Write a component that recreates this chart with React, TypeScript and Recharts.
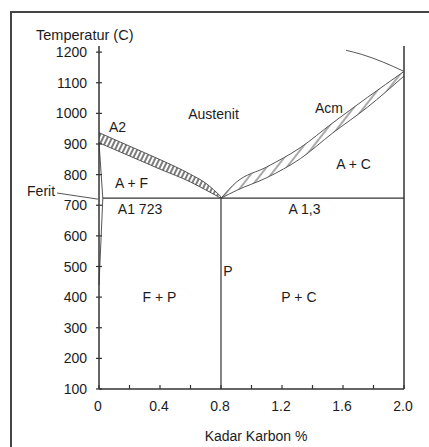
import React from 'react'
import { ComposedChart, Area, Line, XAxis, YAxis, ReferenceDot, ReferenceLine } from 'recharts'

const TEXT = '#1c1c1c'
const AXIS = '#333'
const CURVE = '#555'
const FONT = '"Liberation Sans", Arial, sans-serif'

// axis ticks
const xTicks = [0, 0.2, 0.4, 0.6, 0.8, 1.0, 1.2, 1.4, 1.6, 1.8, 2.0]
const xLabelled = [0, 0.4, 0.8, 1.2, 1.6, 2.0]
const yTicks = [100, 200, 300, 400, 500, 600, 700, 800, 900, 1000, 1100, 1200]

// A2 (A3) band, carbon % vs temperature
const a2Carbon = [0, 0.2, 0.4, 0.6, 0.7, 0.8]
const a2Low = [904, 861, 818, 776, 750, 723]
const a2High = [937, 893, 849, 801, 772, 728]

// Acm band
const acmCarbon = [0.8, 0.9, 1.1, 1.32, 1.53, 1.76, 2.0]
const acmLow = [723, 748, 790, 852, 935, 1020, 1122]
const acmHigh = [723, 775, 825, 888, 968, 1052, 1137]

// ferrite boundary
const feritCarbon = [0, 0.025, 0]
const feritTemp = [904, 723, 440]

// A1 line, eutectoid vertical, right border, top arc
const a1Carbon = [0.025, 2.0]
const a1Temp = [723, 723]
const eutCarbon = [0.8, 0.8]
const eutTemp = [100, 723]
const borderCarbon = [2.0, 2.0]
const borderTemp = [100, 1220]
const arcCarbon = [1.62, 1.72, 1.86, 2.0]
const arcTemp = [1206, 1193, 1168, 1137]

// region labels
const labelText = ['A2', 'Austenit', 'Acm', 'A + F', 'A + C', 'A1 723', 'A 1,3', 'P', 'F + P', 'P + C', 'Ferit']
const labelCarbon = [0.121, 0.751, 1.508, 0.213, 1.669, 0.269, 1.348, 0.846, 0.397, 1.311, -0.38]
const labelTemp = [955, 998, 1019, 774, 834, 688, 689, 485, 399, 399, 746]

const band = (xs: number[], lo: number[], hi: number[]) =>
  xs.map((x, i) => ({ x, range: [lo[i], hi[i]] }))
const pts = (xs: number[], ys: number[]) => xs.map((x, i) => ({ x, y: ys[i] }))

function XTick(props: any) {
  const { x, y, payload } = props
  const v = payload.value
  const show = xLabelled.some(t => Math.abs(t - v) < 1e-6)
  return (
    <g>
      <line x1={x} x2={x} y1={y - 4} y2={y} stroke={AXIS} strokeWidth={1.2} />
      {show && (
        <text x={x - 1} y={y + 22} textAnchor="middle" fontSize={14} fill={TEXT} fontFamily={FONT}>
          {v === 0 ? '0' : v.toFixed(1)}
        </text>
      )}
    </g>
  )
}

function YTick(props: any) {
  const { x, y, payload } = props
  return (
    <g>
      <line x1={x - 3} x2={x + 3} y1={y} y2={y} stroke={AXIS} strokeWidth={1.2} />
      <text x={x - 12} y={y + 5} textAnchor="end" fontSize={14} fill={TEXT} fontFamily={FONT}>
        {payload.value}
      </text>
    </g>
  )
}

const lineProps = {
  dataKey: 'y',
  stroke: CURVE,
  strokeWidth: 1,
  dot: false,
  activeDot: false,
  type: 'linear' as const,
  isAnimationActive: false,
  legendType: 'none' as const,
}

export default function App() {
  return (
    <div style={{ position: 'absolute', left: 0, top: 0, width: 429, height: 447, overflow: 'hidden', background: '#fff', fontFamily: FONT }}>
      {/* outer frame */}
      <div style={{ position: 'absolute', left: 10, top: 11, width: 600, height: 600, borderTop: '2px solid #444', borderLeft: '2px solid #444' }} />
      <div style={{ position: 'absolute', left: 36, top: 27, fontSize: 14.5, lineHeight: '16px', color: TEXT }}>
        Temperatur (C)
      </div>
      <div style={{ position: 'absolute', left: 156, width: 200, top: 428, textAlign: 'center', fontSize: 14, lineHeight: '16px', color: TEXT }}>
        Kadar Karbon %
      </div>
      <div style={{ position: 'absolute', left: 0, top: 0 }}>
        <ComposedChart width={429} height={447} margin={{ top: 46, right: 25, bottom: 28, left: 39 }}>
          <defs>
            <pattern id="hatchA2" patternUnits="userSpaceOnUse" width={4} height={4} patternTransform="rotate(26)">
              <rect width={4} height={4} fill="#fff" />
              <line x1={1} y1={0} x2={1} y2={4} stroke="#444" strokeWidth={1.4} />
            </pattern>
            <pattern id="hatchAcm" patternUnits="userSpaceOnUse" width={8} height={8} patternTransform="rotate(38)">
              <rect width={8} height={8} fill="#fff" />
              <line x1={1} y1={0} x2={1} y2={8} stroke="#555" strokeWidth={1} />
            </pattern>
          </defs>
          <XAxis
            dataKey="x"
            type="number"
            domain={[0, 2]}
            ticks={xTicks}
            interval={0}
            height={30}
            tickSize={0}
            tickMargin={0}
            tickLine={false}
            tick={<XTick />}
            axisLine={{ stroke: AXIS, strokeWidth: 1.5 }}
          />
          <YAxis
            dataKey="y"
            type="number"
            domain={[100, 1220]}
            ticks={yTicks}
            interval={0}
            width={60}
            tickSize={0}
            tickMargin={0}
            tickLine={false}
            tick={<YTick />}
            axisLine={{ stroke: AXIS, strokeWidth: 1.5 }}
          />
          <Area
            data={band(a2Carbon, a2Low, a2High)}
            dataKey="range"
            type="monotone"
            stroke={CURVE}
            strokeWidth={1}
            fill="url(#hatchA2)"
            fillOpacity={1}
            dot={false}
            activeDot={false}
            isAnimationActive={false}
          />
          <Area
            data={band(acmCarbon, acmLow, acmHigh)}
            dataKey="range"
            type="monotone"
            stroke={CURVE}
            strokeWidth={1}
            fill="url(#hatchAcm)"
            fillOpacity={1}
            dot={false}
            activeDot={false}
            isAnimationActive={false}
          />
          <Line {...lineProps} data={pts(feritCarbon, feritTemp)} />
          <Line {...lineProps} data={pts(a1Carbon, a1Temp)} stroke={AXIS} strokeWidth={1.2} />
          <Line {...lineProps} data={pts(eutCarbon, eutTemp)} stroke={AXIS} strokeWidth={1.2} />
          <Line {...lineProps} data={pts(borderCarbon, borderTemp)} stroke={AXIS} strokeWidth={1.5} />
          <Line {...lineProps} data={pts(arcCarbon, arcTemp)} type="monotone" />
          <ReferenceLine
            segment={[{ x: -0.275, y: 740 }, { x: -0.007, y: 720 }]}
            stroke={CURVE}
            strokeWidth={1}
            ifOverflow="visible"
          />
          {labelText.map((t, i) => (
            <ReferenceDot
              key={t}
              x={labelCarbon[i]}
              y={labelTemp[i]}
              r={0}
              fill="none"
              stroke="none"
              ifOverflow="visible"
              label={{ value: t, position: 'center', fontSize: 14, fill: TEXT, fontFamily: FONT }}
            />
          ))}
        </ComposedChart>
      </div>
    </div>
  )
}
